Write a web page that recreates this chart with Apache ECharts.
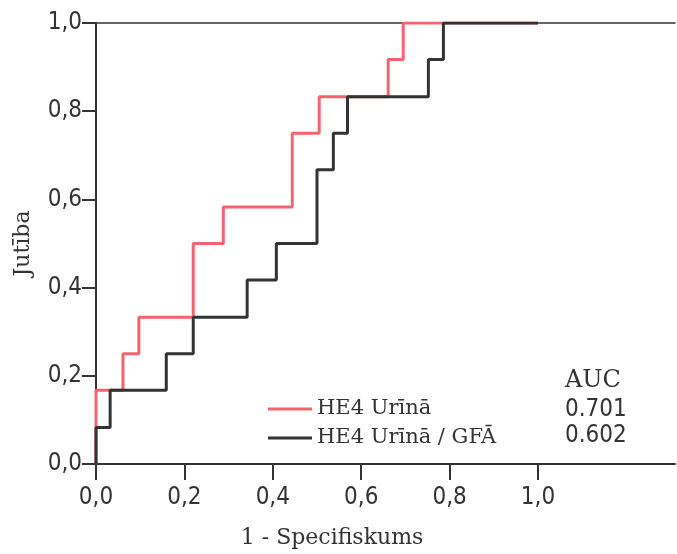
<!DOCTYPE html>
<html>
<head>
<meta charset="utf-8">
<script src="https://cdn.jsdelivr.net/npm/echarts@6/dist/echarts.min.js"></script>
<style>
  html, body { margin: 0; padding: 0; background: #fff; }
  #roc { width: 677px; height: 554px; }
</style>
</head>
<body>
<div id="roc"></div>
<script>
// ROC punkti (1 - specifiskums, jutība), nolasīti no attēla
var redFpr = [0, 0.061, 0.097, 0.220, 0.288, 0.444, 0.505, 0.661, 0.695, 1.0];
var redTpr = [0, 0.167, 0.250, 0.333, 0.500, 0.583, 0.750, 0.833, 0.917, 1.0];
var blackFpr = [0, 0.032, 0.159, 0.220, 0.342, 0.408, 0.500, 0.537, 0.569, 0.752, 0.786, 1.0];
var blackTpr = [0, 0.083, 0.167, 0.250, 0.333, 0.417, 0.500, 0.667, 0.750, 0.833, 0.917, 1.0];

var seriesNames = ['HE4 Urīnā', 'HE4 Urīnā / GFĀ'];
var aucValues = ['0.701', '0.602'];

var tickFont = "'Liberation Sans Narrow', 'DejaVu Sans Condensed', sans-serif";
var serifFont = "'DejaVu Serif', 'Liberation Serif', serif";
var ink = '#333333';

function pairUp(xs, ys) {
    var out = [];
    for (var i = 0; i < xs.length; i++) {
        out.push([xs[i], ys[i]]);
    }
    return out;
}

function commaLabel(v) {
    return v.toFixed(1).replace('.', ',');
}

var rocChart = echarts.init(document.getElementById('roc'));

var option = {
    backgroundColor: '#fff',
    animation: false,
    grid: [
        { left: 96, right: 139, top: 23, bottom: 90 },
        // tikai rāmja līnijas, kas turpinās līdz labajai malai
        { left: 96, right: 2, top: 23, bottom: 90 }
    ],
    legend: {
        orient: 'vertical',
        left: 263,
        top: 393,
        icon: 'rect',
        itemWidth: 44,
        itemHeight: 3,
        itemGap: 7,
        data: seriesNames,
        textStyle: {
            fontFamily: serifFont,
            fontSize: 21,
            lineHeight: 22,
            color: '#333'
        }
    },
    xAxis: [
        {
            type: 'value',
            gridIndex: 0,
            min: 0,
            max: 1,
            interval: 0.2,
            name: '1 - Specifiskums',
            nameLocation: 'middle',
            nameGap: 63,
            nameTextStyle: {
                fontFamily: serifFont,
                fontSize: 22,
                color: '#333',
                padding: [0, 0, 0, 30]
            },
            axisLine: { show: false },
            axisTick: { show: true, length: 16, lineStyle: { color: ink, width: 2 } },
            axisLabel: {
                margin: 22,
                formatter: commaLabel,
                fontFamily: tickFont,
                fontSize: 24,
                color: '#333'
            },
            splitLine: { show: false }
        },
        {
            type: 'value',
            gridIndex: 1,
            position: 'bottom',
            min: 0,
            max: 1,
            axisLine: { show: true, onZero: false, lineStyle: { color: ink, width: 2 } },
            axisTick: { show: false },
            axisLabel: { show: false },
            splitLine: { show: false }
        },
        {
            type: 'value',
            gridIndex: 1,
            position: 'top',
            min: 0,
            max: 1,
            axisLine: { show: true, onZero: false, lineStyle: { color: ink, width: 1.5 } },
            axisTick: { show: false },
            axisLabel: { show: false },
            splitLine: { show: false }
        }
    ],
    yAxis: [
        {
            type: 'value',
            gridIndex: 0,
            min: 0,
            max: 1,
            interval: 0.2,
            name: 'Jutība',
            nameLocation: 'middle',
            nameGap: 62,
            nameTextStyle: {
                fontFamily: serifFont,
                fontSize: 22,
                color: '#333'
            },
            axisLine: { show: true, onZero: false, lineStyle: { color: ink, width: 2 } },
            axisTick: { show: true, length: 14, lineStyle: { color: ink, width: 2 } },
            axisLabel: {
                margin: 14,
                formatter: commaLabel,
                fontFamily: tickFont,
                fontSize: 24,
                color: '#333'
            },
            splitLine: { show: false }
        },
        {
            type: 'value',
            gridIndex: 1,
            min: 0,
            max: 1,
            show: false
        }
    ],
    series: [
        {
            name: seriesNames[0],
            type: 'line',
            xAxisIndex: 0,
            yAxisIndex: 0,
            step: 'start',
            showSymbol: false,
            data: pairUp(redFpr, redTpr),
            itemStyle: { color: '#f4646e' },
            lineStyle: { color: '#f4646e', width: 3 }
        },
        {
            name: seriesNames[1],
            type: 'line',
            xAxisIndex: 0,
            yAxisIndex: 0,
            step: 'start',
            showSymbol: false,
            data: pairUp(blackFpr, blackTpr),
            itemStyle: { color: ink },
            lineStyle: { color: ink, width: 3 }
        }
    ],
    graphic: [
        {
            type: 'text',
            left: 565,
            top: 369,
            style: { text: 'AUC', font: '24px ' + serifFont, fill: '#333' }
        },
        {
            type: 'text',
            left: 565,
            top: 398,
            style: { text: aucValues[0], font: '24px ' + tickFont, fill: '#333' }
        },
        {
            type: 'text',
            left: 565,
            top: 424,
            style: { text: aucValues[1], font: '24px ' + tickFont, fill: '#333' }
        }
    ]
};

rocChart.setOption(option);
</script>
</body>
</html>
